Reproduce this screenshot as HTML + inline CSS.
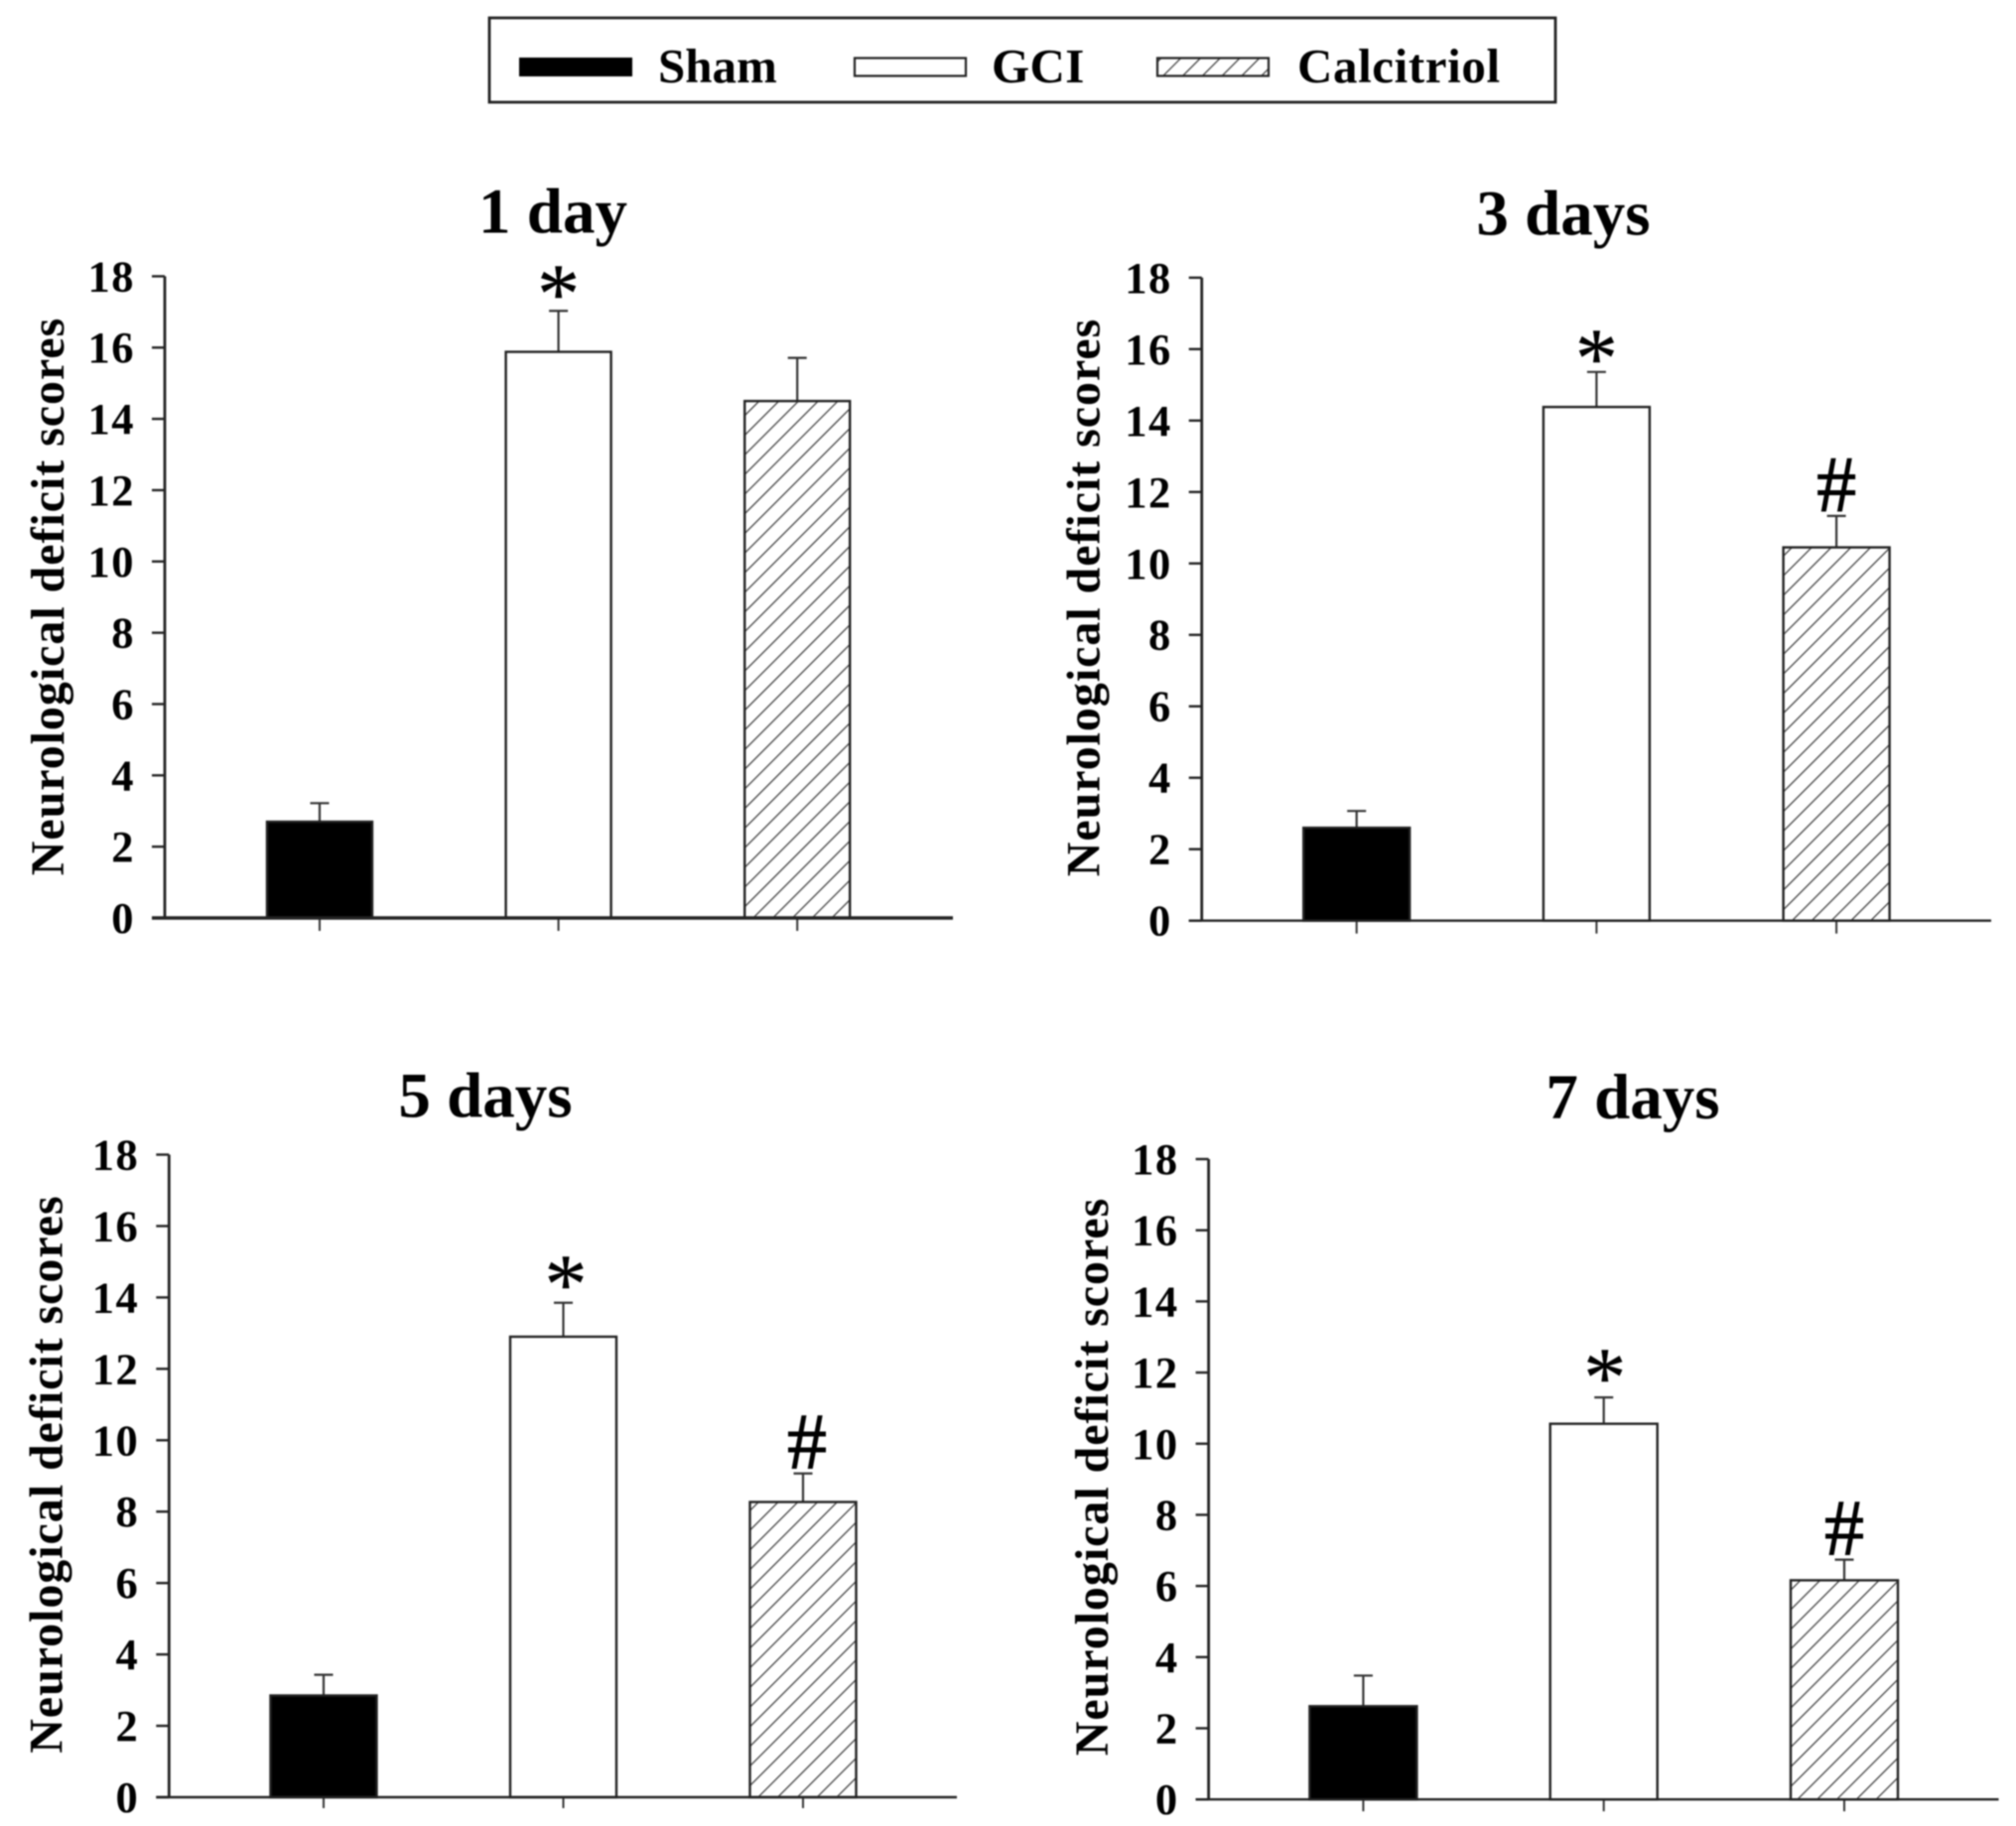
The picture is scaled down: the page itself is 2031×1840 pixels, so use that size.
<!DOCTYPE html>
<html lang="en">
<head>
<meta charset="utf-8">
<title>Neurological deficit scores</title>
<style>
html,body{margin:0;padding:0;background:#fff;}
#figure{display:block;width:2031px;height:1840px;filter:blur(0.7px);}
text{font-family:"Liberation Serif",serif;fill:#000;}
.b{font-weight:bold;}
</style>
</head>
<body>
<svg id="figure" xmlns="http://www.w3.org/2000/svg" width="2031" height="1840" viewBox="0 0 2031 1840">
  <defs>
    <pattern id="hatch" patternUnits="userSpaceOnUse" width="14" height="14" patternTransform="rotate(45)">
      <rect width="14" height="14" fill="#fff"/>
      <line x1="0" y1="0" x2="0" y2="14" stroke="#333" stroke-width="2.4"/>
    </pattern>
  </defs>
  <rect width="2031" height="1840" fill="#fff"/>
  <g>
    <rect x="493" y="18" width="1074" height="85" fill="#fff" stroke="#222" stroke-width="2.8"/>
    <rect x="523" y="58" width="114" height="19" fill="#000"/>
    <text class="b" x="663" y="83" font-size="49">Sham</text>
    <rect x="861" y="58.5" width="112" height="18" fill="#fff" stroke="#222" stroke-width="2.2"/>
    <text class="b" x="999" y="83" font-size="49" letter-spacing="0.4">GCI</text>
    <rect x="1166" y="58.5" width="112" height="18" fill="url(#hatch)" stroke="#222" stroke-width="2.2"/>
    <text class="b" x="1307" y="83" font-size="49" letter-spacing="0.6">Calcitriol</text>
  </g>
  <g id="panels"></g>
</svg>
<script>
// ---- data ----
const panelTitles = ["1 day", "3 days", "5 days", "7 days"];
const seriesNames = ["sham", "gci", "calcitriol"];
const shamMeans = [2.7, 2.6, 2.85, 2.62];
const gciMeans = [15.88, 14.38, 12.9, 10.56];
const calcitriolMeans = [14.5, 10.45, 8.27, 6.16];
const shamErrors = [0.52, 0.47, 0.58, 0.86];
const gciErrors = [1.15, 0.98, 0.95, 0.74];
const calcitriolErrors = [1.21, 0.88, 0.8, 0.58];
const gciMarks = ["*", "*", "*", "*"];
const calcitriolMarks = ["", "#", "#", "#"];
const yTickLabels = [0, 2, 4, 6, 8, 10, 12, 14, 16, 18];
const yAxisTitle = "Neurological deficit scores";

// ---- per-panel geometry (layout only) ----
const layouts = [
  {axisX:166,   endX:960,  top:278.4, zero:925,    first:322,    step:240.6, barW:106, tickOut:13, titleX:557,  titleY:234.5, yTitleX:64,   yTitleY:601,  axisW:3.4, starDx:0, starDy:-1, hashDx:0},
  {axisX:1210.7,endX:2006, top:279.8, zero:927.7,  first:1366.7, step:241.7, barW:107, tickOut:13, titleX:1575, titleY:236.5, yTitleX:1107.6,yTitleY:602, axisW:2.4, starDx:0, starDy:2, hashDx:0},
  {axisX:170.3, endX:964,  top:1163.5,zero:1811,   first:326,    step:241.5, barW:107, tickOut:11, titleX:489,  titleY:1125.7,yTitleX:62.5, yTitleY:1485.6,axisW:2.4, starDx:2.5, starDy:-3, hashDx:4},
  {axisX:1217.6,endX:2013.5,top:1168, zero:1813.2, first:1373.4, step:242.3, barW:108, tickOut:12, titleX:1645, titleY:1127,  yTitleX:1116, yTitleY:1488, axisW:2.4, starDx:1, starDy:-4, hashDx:0}
];

const SVGNS = "http://www.w3.org/2000/svg";
const root = document.getElementById("panels");

function make(tag, parent, attrs, content) {
  const el = document.createElementNS(SVGNS, tag);
  for (const k in attrs) el.setAttribute(k, attrs[k]);
  if (content !== undefined) el.textContent = content;
  parent.appendChild(el);
  return el;
}

function drawPanel(p) {
  const L = layouts[p];
  const yScale = v => L.zero - (v / 18) * (L.zero - L.top);
  const xScale = i => L.first + i * L.step;
  const means = [shamMeans[p], gciMeans[p], calcitriolMeans[p]];
  const errors = [shamErrors[p], gciErrors[p], calcitriolErrors[p]];
  const marks = ["", gciMarks[p], calcitriolMarks[p]];
  const fills = ["#000", "#fff", "url(#hatch)"];

  const g = make("g", root, {});
  
  

  const title = make("text", g, {class:"b", x:L.titleX, y:L.titleY, "font-size":65, "text-anchor":"middle"}, panelTitles[p]);
  
  

  const yTitle = make("text", g, {class:"b", "font-size":48, "letter-spacing":"0.95", "text-anchor":"middle",
    transform:"translate(" + L.yTitleX + "," + L.yTitleY + ") rotate(-90)"}, yAxisTitle);
  
  

  yTickLabels.forEach(t => {
    const y = yScale(t);
    const tick = make("line", g, {x1:L.axisX - 13, x2:L.axisX, y1:y, y2:y, stroke:"#222", "stroke-width":2.4});
    
    
    const label = make("text", g, {class:"b", x:L.axisX - 30, y:y + 15, "font-size":44.5, "letter-spacing":"1.5", "text-anchor":"end"}, String(t));
    
    
  });

  seriesNames.forEach((name, i) => {
    const cx = xScale(i);
    const top = yScale(means[i]);
    const errTop = yScale(means[i] + errors[i]);

    const err = make("line", g, {x1:cx, x2:cx, y1:top, y2:errTop, stroke:"#333", "stroke-width":2.2});
    
    
    const cap = make("line", g, {x1:cx - 9.5, x2:cx + 9.5, y1:errTop, y2:errTop, stroke:"#333", "stroke-width":2.2});
    
    

    const bar = make("rect", g, {x:cx - L.barW / 2, y:top, width:L.barW, height:L.zero - top,
      fill:fills[i], stroke:"#222", "stroke-width":2.4});
    
    

    const xt = make("line", g, {x1:cx, x2:cx, y1:L.zero, y2:L.zero + L.tickOut, stroke:"#333", "stroke-width":2});
    
    

    if (marks[i]) {
      const isStar = marks[i] === "*";
      const my = isStar ? errTop + 13 + L.starDy : errTop - 5;
      const mx = cx + (isStar ? L.starDx : L.hashDx);
      const mark = make("text", g, {x:mx, y:my, "font-size":isStar ? 86 : 80, "text-anchor":"middle",
        stroke:"#000", "stroke-width":isStar ? 0.4 : 0.9}, marks[i]);
      
      
    }
  });

  const yAxis = make("line", g, {x1:L.axisX, x2:L.axisX, y1:L.top, y2:L.zero, stroke:"#222", "stroke-width":2.8});
  
  
  const xAxis = make("line", g, {x1:L.axisX - 13, x2:L.endX, y1:L.zero, y2:L.zero, stroke:"#222", "stroke-width":L.axisW});
  
  
}

panelTitles.forEach((_, p) => drawPanel(p));
</script>
</body>
</html>
